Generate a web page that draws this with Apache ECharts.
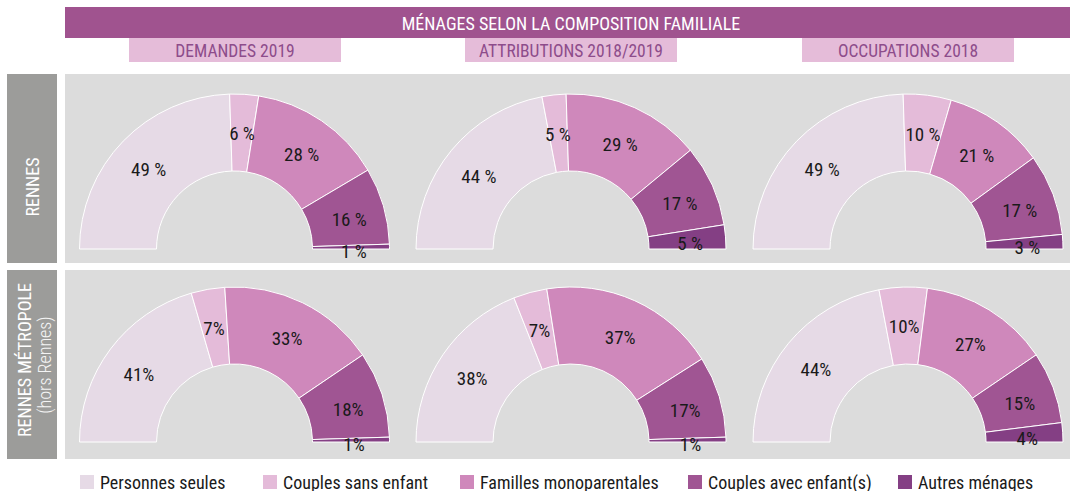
<!DOCTYPE html>
<html><head><meta charset="utf-8">
<script src="https://cdn.jsdelivr.net/npm/echarts@6/dist/echarts.min.js"></script>
<style>html,body{margin:0;padding:0;background:#fff}#c{width:1070px;height:491px}</style>
</head><body><div id="c"></div>
<script>
const categories = ['Personnes seules', 'Couples sans enfant', 'Familles monoparentales', 'Couples avec enfant(s)', 'Autres ménages'];
const columnTitles = ['DEMANDES 2019', 'ATTRIBUTIONS 2018/2019', 'OCCUPATIONS 2018'];
const mainTitle = 'MÉNAGES SELON LA COMPOSITION FAMILIALE';
const rennesDemandes = [49, 6, 28, 16, 1];
const rennesAttributions = [44, 5, 29, 17, 5];
const rennesOccupations = [49, 10, 21, 17, 3];
const metroDemandes = [41, 7, 33, 18, 1];
const metroAttributions = [38, 7, 37, 17, 1];
const metroOccupations = [44, 10, 27, 15, 4];

const colors = ['#E6DAE6', '#E4BBD9', '#CF88BB', '#A05593', '#843F84'];
const FONT = "'Roboto Condensed', 'DejaVu Sans Condensed', sans-serif";

const colX = [234.5, 571, 908];
const rowY = [249, 442];
const rows = [
  {values: [rennesDemandes, rennesAttributions, rennesOccupations], sep: ' %'},
  {values: [metroDemandes, metroAttributions, metroOccupations], sep: '%'}
];

const series = [];
rows.forEach((row, ri) => {
  row.values.forEach((vals, ci) => {
    series.push({
      type: 'pie',
      silent: true,
      center: [colX[ci], rowY[ri]],
      radius: [78, 155],
      startAngle: 180,
      endAngle: 360,
      clockwise: true,
      avoidLabelOverlap: false,
      itemStyle: {borderColor: '#ffffff', borderWidth: 1},
      label: {
        show: true, position: 'inside', color: '#1a1a1a',
        fontFamily: FONT, fontSize: 19, offset: [0, 4],
        formatter: p => p.value + row.sep
      },
      labelLine: {show: false},
      emphasis: {disabled: true},
      data: categories.map((name, k) => ({name, value: vals[k], itemStyle: {color: colors[k]}}))
    });
  });
});

const legendX = [78, 261, 458, 686, 896];
const legends = categories.map((name, k) => ({
  data: [name], left: legendX[k], top: 473, padding: 0,
  icon: 'rect', itemWidth: 16, itemHeight: 16, selectedMode: false,
  textStyle: {fontFamily: FONT, fontSize: 18, color: '#1a1a1a'}
}));

const graphic = [
  {type: 'rect', z: -10, shape: {x: 65, y: 7, width: 1005, height: 31}, style: {fill: '#A0538F'}},
  {type: 'text', z: 10, x: 571, y: 23, style: {text: mainTitle, x: 0, y: 0, align: 'center', verticalAlign: 'middle', fill: '#ffffff', font: '18px ' + FONT}},
];
const subBoxX = [129, 465, 802];
columnTitles.forEach((t, i) => {
  graphic.push({type: 'rect', z: -10, shape: {x: subBoxX[i], y: 38, width: 212, height: 24}, style: {fill: '#E5BCD9'}});
  graphic.push({type: 'text', z: 10, x: subBoxX[i] + 106, y: 50.5, style: {text: t, x: 0, y: 0, align: 'center', verticalAlign: 'middle', fill: '#8D4C8B', font: '17.5px ' + FONT}});
});
const rowTop = [74, 270];
rowTop.forEach(y => {
  graphic.push({type: 'rect', z: -10, shape: {x: 7, y: y, width: 50, height: 189}, style: {fill: '#9C9C9A'}});
  graphic.push({type: 'rect', z: -10, shape: {x: 65, y: y, width: 1005, height: 189}, style: {fill: '#DCDCDC'}});
});
graphic.push({type: 'text', z: 10, x: 32, y: 187, rotation: Math.PI / 2, style: {text: 'RENNES', x: 0, y: 0, align: 'center', verticalAlign: 'middle', fill: '#ffffff', font: '18px ' + FONT}});
graphic.push({type: 'text', z: 10, x: 24, y: 360, rotation: Math.PI / 2, style: {text: 'RENNES MÉTROPOLE', x: 0, y: 0, align: 'center', verticalAlign: 'middle', fill: '#ffffff', font: '18px ' + FONT}});
graphic.push({type: 'text', z: 10, x: 44.5, y: 365, rotation: Math.PI / 2, style: {text: '(hors Rennes)', x: 0, y: 0, align: 'center', verticalAlign: 'middle', fill: '#f4f4f4', font: '300 18px ' + FONT}});

const chart = echarts.init(document.getElementById('c'), null, {renderer: 'svg'});
chart.setOption({
  animation: false,
  backgroundColor: '#ffffff',
  legend: legends,
  graphic: graphic,
  series: series
});
</script>
</body></html>
